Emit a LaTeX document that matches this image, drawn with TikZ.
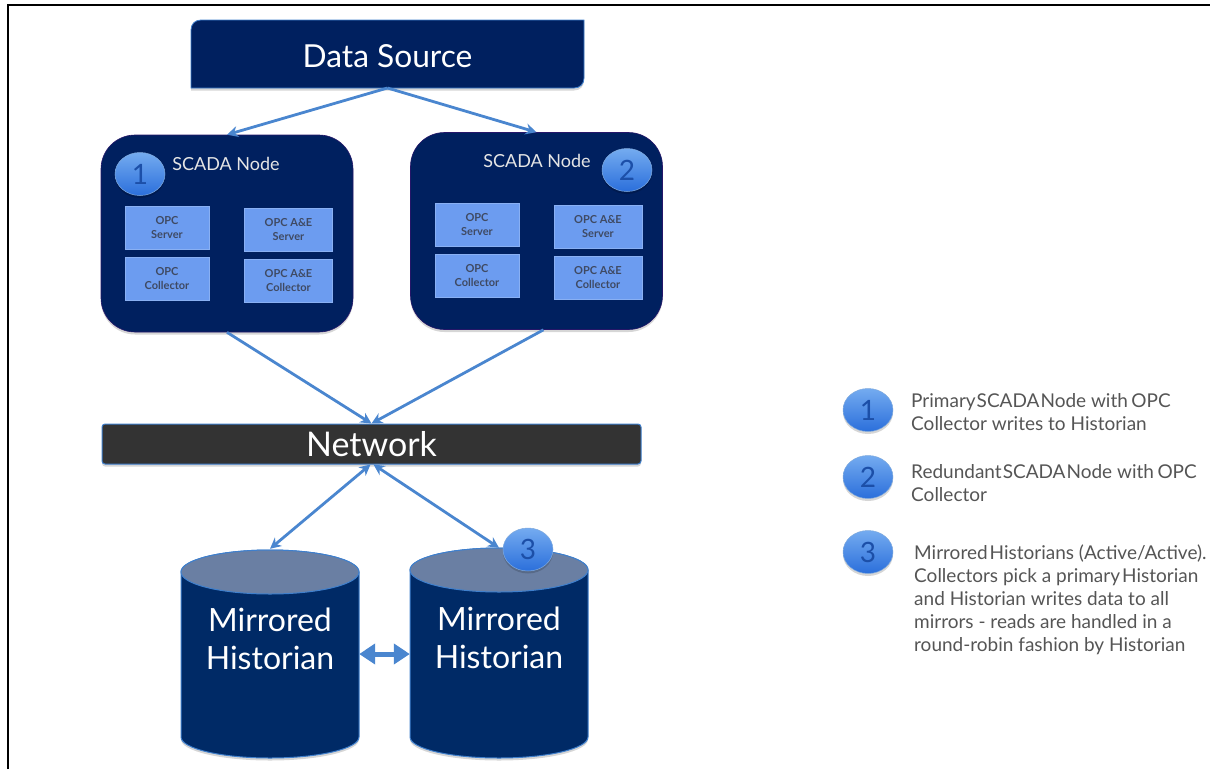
\documentclass[tikz,border=0pt]{standalone}
\usepackage{fontspec}
\setmainfont{Lato}
\usetikzlibrary{shapes.geometric,arrows.meta,shadows}
\definecolor{navy}{HTML}{00205F}
\definecolor{cylbody}{HTML}{002A66}
\definecolor{cyltop}{HTML}{6A7FA3}
\definecolor{edgeblue}{HTML}{3F7FCC}
\definecolor{linkblue}{HTML}{4A86CF}
\definecolor{boxblue}{HTML}{6C9CF0}
\definecolor{boxtext}{HTML}{3F4A63}
\definecolor{legendtext}{HTML}{555555}
\definecolor{numblue}{HTML}{1C4FA8}
\definecolor{badgetop}{HTML}{74ABF0}
\definecolor{badgebot}{HTML}{2B6FDB}
\tikzset{
  x=1pt,y=-1pt,
  softshadow/.style={drop shadow={shadow xshift=0pt,shadow yshift=-2.5pt,opacity=.16,fill=black}},
  scadabox/.style={draw=navy!70!violet,line width=.6pt,fill=navy,rounded corners=34pt,minimum width=252pt,minimum height=197pt,softshadow},
  inner/.style={fill=boxblue,draw=boxblue!80!white,line width=.5pt,text=boxtext,font=\fontsize{11}{14}\selectfont\bfseries,align=center,inner sep=0pt},
  badge/.style={ellipse,minimum width=50pt,minimum height=43pt,inner sep=0pt,top color=badgetop,bottom color=badgebot,draw=linkblue!70!white,line width=.5pt,text=numblue,font=\fontsize{28}{30}\selectfont,softshadow},
  link/.style={draw=linkblue,line width=2.8pt,-{Stealth[length=11pt,width=11pt]}},
  dbllink/.style={draw=linkblue,line width=2.8pt,{Stealth[length=11pt,width=11pt]}-{Stealth[length=11pt,width=11pt]}},
  blockarrow/.style={draw=linkblue,line width=5pt,{Triangle[length=16pt,width=20pt]}-{Triangle[length=16pt,width=20pt]}},
  legend/.style={anchor=north west,text=legendtext,align=left,inner sep=0pt,font=\fontsize{19}{23}\selectfont},
  histlabel/.style={text=white,align=center,inner sep=0pt,font=\fontsize{32}{38}\selectfont},
  anchorbox/.style={inner sep=0pt,minimum width=178pt,minimum height=210pt},
  cylside/.style={fill=cylbody,draw=edgeblue,line width=1pt,softshadow},
  cylcap/.style={fill=cyltop,draw=edgeblue,line width=1pt},
  smallbox/.style={inner,minimum width=84pt,minimum height=43pt},
  widebox/.style={inner,minimum width=88pt,minimum height=43pt},
}
\begin{document}
\begin{tikzpicture}
\useasboundingbox (0,0) rectangle (1210,769);
\draw[black,line width=1.6pt] (8,769) -- (8,5) -- (1210,5);

% Data Source
\path[fill=navy,draw=edgeblue,line width=.8pt,softshadow]
  (201,20) -- (584,20) -- (584,78) .. controls (584,84) and (580,88) .. (574,88) -- (191,88) -- (191,30) .. controls (191,24) and (195,20) .. (201,20) -- cycle;
\node[text=white,font=\fontsize{31.7}{34}\selectfont,minimum width=393pt,minimum height=68pt,inner sep=0pt] (ds) at (387.5,56) {Data Source};
\coordinate (dsb) at (387.5,88);

% SCADA nodes
\node[scadabox] (sn1) at (227,233.5) {};
\node[scadabox] (sn2) at (536.5,231) {};
\node[text=white!90!black,font=\fontsize{18}{20}\selectfont,inner sep=0pt] (l1) at (226,164) {SCADA Node};
\node[text=white!90!black,font=\fontsize{18}{20}\selectfont,inner sep=0pt] (l2) at (537,161) {SCADA Node};
\node[badge] (b1) at (140,174) {1};
\node[badge] (b2) at (627,170) {2};

\node[smallbox] (a1) at (167,227.5) {OPC\\Server};
\node[smallbox] (a2) at (167,278.5) {OPC\\Collector};
\node[widebox] (a3) at (288.5,229.5) {OPC A\&E\\Server};
\node[widebox] (a4) at (288.5,280.5) {OPC A\&E\\Collector};
\node[smallbox] (c1) at (477,224.5) {OPC\\Server};
\node[smallbox] (c2) at (477,275.5) {OPC\\Collector};
\node[widebox] (c3) at (598,226.5) {OPC A\&E\\Server};
\node[widebox] (c4) at (598,278) {OPC A\&E\\Collector};

% Network
\node[fill=black!80,draw=edgeblue,line width=1pt,rounded corners=3pt,minimum width=539pt,minimum height=40pt,inner sep=0pt,text=white,font=\fontsize{34}{36}\selectfont,softshadow] (net) at (371.5,444) {Network};

% Historians
\path[cylside] (181,572) -- (181,737) arc[start angle=180,end angle=360,x radius=89pt,y radius=21pt] -- (359,572) arc[start angle=0,end angle=180,x radius=89pt,y radius=22pt] -- cycle;
\path[cylcap] (270,572) ellipse[x radius=89pt,y radius=22pt];
\path[cylside] (410,570) -- (410,737) arc[start angle=180,end angle=360,x radius=89pt,y radius=21pt] -- (588,570) arc[start angle=0,end angle=180,x radius=89pt,y radius=22pt] -- cycle;
\path[cylcap] (499,570) ellipse[x radius=89pt,y radius=22pt];
\node[anchorbox] (h1) at (270,654) {};
\node[anchorbox] (h2) at (499,653) {};
\node[histlabel] (t1) at (270,639) {Mirrored\\Historian};
\node[histlabel] (t2) at (499,638) {Mirrored\\Historian};

% Connectors
\draw[link] (dsb) -- (sn1.north);
\draw[link] (dsb) -- (sn2.north);
\draw[link] (sn1.south) -- (net.north);
\draw[link] ([xshift=7pt]sn2.south) -- (net.north);
\draw[dbllink] ([xshift=-1pt]net.south) -- (h1.north);
\draw[dbllink] ([xshift=2pt]net.south) -- (h2.north);
\draw[blockarrow] (h1.east) -- (h1.east -| h2.west);
\node[badge] (b3) at (528,549.5) {3};

% Legend
\node[badge] (k1) at (868,410) {1};
\node[badge] (k2) at (868,477) {2};
\node[badge] (k3) at (868,552) {3};
\node[legend] (m1) at (911,393) {Primary\hspace{1pt}SCADA\hspace{1pt}Node with\hspace{3.5pt}OPC\\Collector writes to Historian};
\node[legend] (m2) at (911,464) {Redundant\hspace{1pt}SCADA\hspace{1pt}Node with\hspace{3.5pt}OPC\\Collector};
\node[legend] (m3) at (914,545) {Mirrored\hspace{2pt}Historians (Active/Active).\\Collectors pick a primary\hspace{2pt}Historian\\and Historian writes data to all\\mirrors - reads are handled in a\\round-robin fashion by Historian};
\end{tikzpicture}
\end{document}
